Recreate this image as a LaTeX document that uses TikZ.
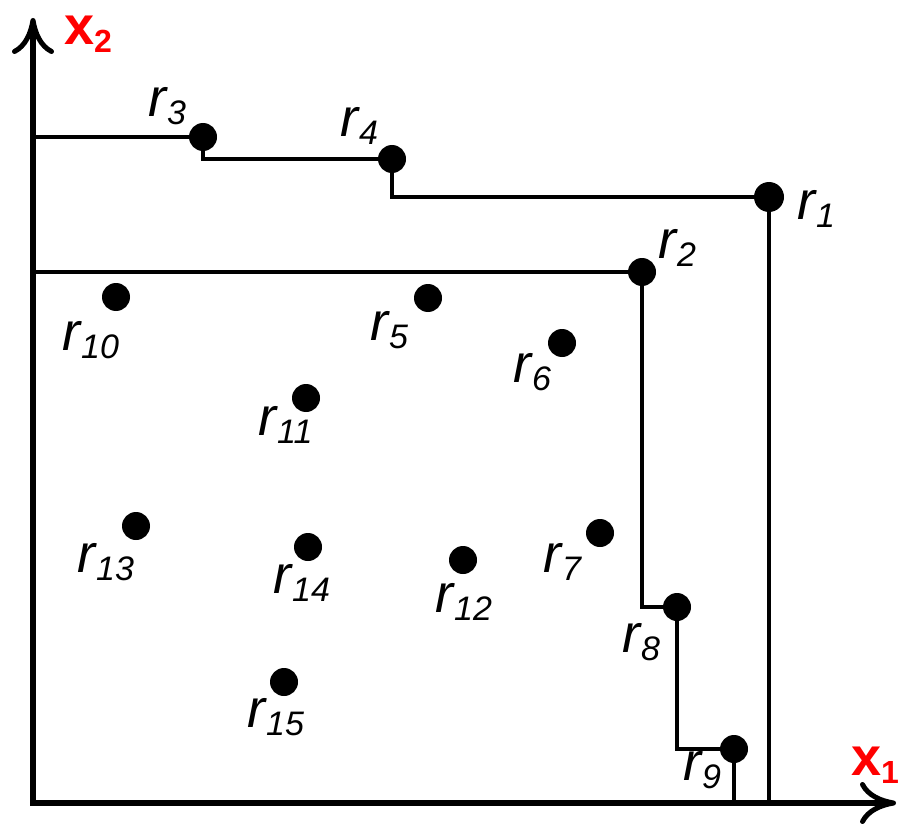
\documentclass[tikz,border=0pt]{standalone}
\usepackage{fontspec}
\setmainfont{Liberation Sans}
\usetikzlibrary{arrows.meta}
\definecolor{axred}{RGB}{255,0,0}
\newcommand{\rlab}[1]{\fontsize{54}{54}\selectfont\itshape r\kern1pt\raisebox{-8pt}{\fontsize{34}{34}\selectfont #1}}
\newcommand{\xlab}[1]{\fontsize{54}{54}\selectfont\bfseries\color{axred}x\raisebox{-8pt}{\fontsize{32}{32}\selectfont #1}}
\tikzset{
  dot/.style={circle, fill=black, inner sep=0pt, minimum size=28pt},
  bigdot/.style={dot, minimum size=30pt},
  rlabel/.style={anchor=base west, inner sep=0pt},
  axis/.style={line width=5.5pt, line join=miter, {Computer Modern Rightarrow[length=36pt, width=42pt, line width=5pt]}-{Computer Modern Rightarrow[length=36pt, width=42pt, line width=5pt]}},
  frontier/.style={line width=3.5pt, line join=miter}
}
\begin{document}
\begin{tikzpicture}[x=1pt, y=-1pt]
\useasboundingbox (0,0) rectangle (900,824);
% axes
\coordinate (o) at (33,803);
\coordinate (yt) at (33,18);
\coordinate (xt) at (896,803);
\draw[axis] (yt) -- (o) -- (xt);
\node[anchor=base west, inner sep=0pt] (x2) at (64,45) {\xlab{2}};
\node[anchor=base west, inner sep=0pt] (x1) at (851,775) {\xlab{1}};
% points
\node[bigdot] (d1) at (769,197) {};
\node[dot] (d2) at (642,272) {};
\node[dot] (d3) at (203,137) {};
\node[dot] (d4) at (392,159) {};
\node[dot] (d5) at (428,298) {};
\node[dot] (d6) at (562,343) {};
\node[dot] (d7) at (600,533) {};
\node[dot] (d8) at (677,607) {};
\node[dot] (d9) at (734,749) {};
\node[dot] (d10) at (116,297) {};
\node[dot] (d11) at (306,398) {};
\node[dot] (d12) at (463,560) {};
\node[dot] (d13) at (136,526) {};
\node[dot] (d14) at (308,547) {};
\node[dot] (d15) at (284,682) {};
% frontiers
\coordinate (s1) at (33,137);
\coordinate (s2) at (33,272);
\draw[frontier] (s1) -- (d3.center) |- (d4.center) |- (d1.center) -- (d1.center |- o);
\draw[frontier] (s2) -- (d2.center) |- (d8.center) |- (d9.center) -- (d9.center |- o);
% labels
\node[rlabel] (l1) at (797,219) {\rlab{1}};
\node[rlabel] (l2) at (658,258) {\rlab{2}};
\node[rlabel] (l3) at (148,117) {\rlab{3}};
\node[rlabel] (l4) at (340,137) {\rlab{4}};
\node[rlabel] (l5) at (370,340) {\rlab{5}};
\node[rlabel] (l6) at (513,382) {\rlab{6}};
\node[rlabel] (l7) at (543,572) {\rlab{7}};
\node[rlabel] (l8) at (622,652) {\rlab{8}};
\node[rlabel] (l9) at (683,780) {\rlab{9}};
\node[rlabel] (l10) at (62,350) {\rlab{10}};
\node[rlabel] (l11) at (258,435) {\rlab{11}};
\node[rlabel] (l12) at (435,612) {\rlab{12}};
\node[rlabel] (l13) at (77,572) {\rlab{13}};
\node[rlabel] (l14) at (273,593) {\rlab{14}};
\node[rlabel] (l15) at (247,727) {\rlab{15}};
\end{tikzpicture}
\end{document}
